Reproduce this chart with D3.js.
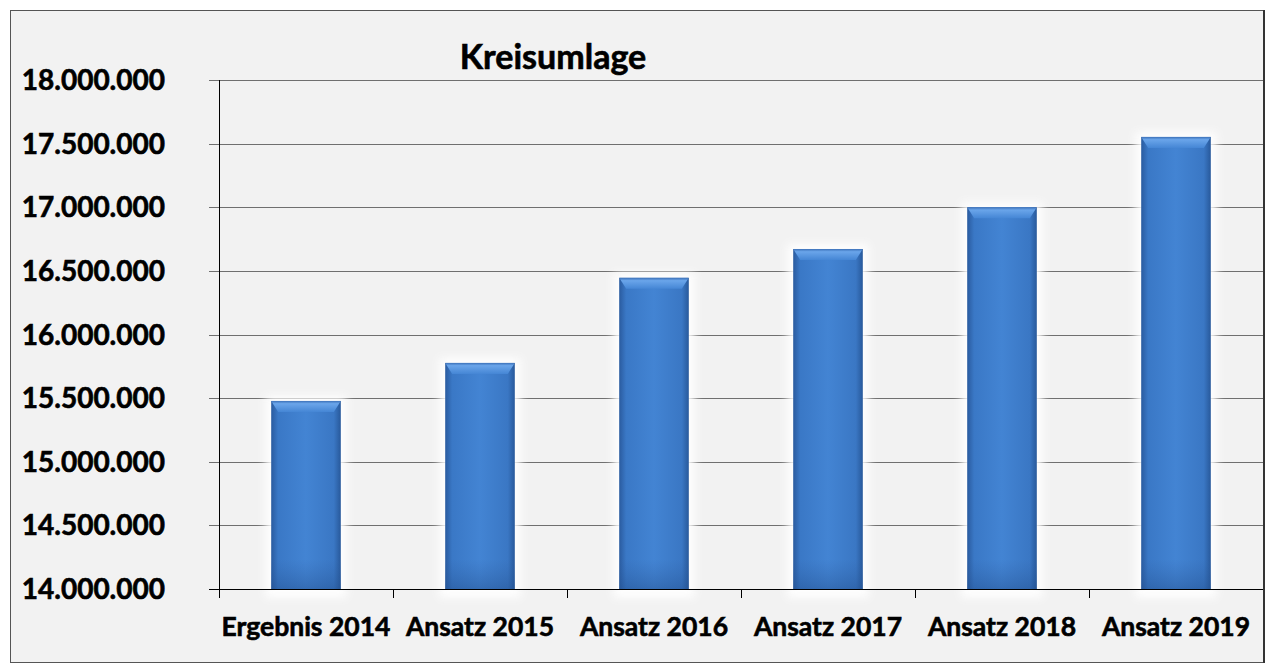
<!DOCTYPE html>
<html>
<head>
<meta charset="utf-8">
<script src="https://cdn.jsdelivr.net/npm/d3@7"></script>
<style>
    body { margin: 0; background: #ffffff; }
    text { font-family: Lato, "Open Sans", sans-serif; font-weight: bold; fill: #000; stroke: #000; stroke-width: 0.6px; }
</style>
</head>
<body>
<div id="chart"></div>
<script>
'use strict';

const categories = ["Ergebnis 2014", "Ansatz 2015", "Ansatz 2016", "Ansatz 2017", "Ansatz 2018", "Ansatz 2019"];
const values = [15478000, 15777000, 16445000, 16672000, 17000000, 17553000];
const yTicks = [14000000, 14500000, 15000000, 15500000, 16000000, 16500000, 17000000, 17500000, 18000000];
const chartTitle = "Kreisumlage";

class BarChart {
    constructor(divId, width, height, options) {
        this.options = options;
        let margin = options.margin;
        this.width = width - margin.left - margin.right;
        this.height = height - margin.top - margin.bottom;

        let root = d3.select("#" + divId).append("svg")
            .attr("width", width)
            .attr("height", height);

        this.root = root;
        this.defs = root.append("defs");

        // frame of the chart
        root.append("rect")
            .attr("x", 10.5).attr("y", 10.5)
            .attr("width", width - 12.5).attr("height", height - 13)
            .style("fill", "#f2f2f2")
            .style("stroke", "#555")
            .style("stroke-width", 1);
        root.append("line")
            .attr("x1", width - 2).attr("x2", width - 2)
            .attr("y1", 10).attr("y2", height - 2)
            .style("stroke", "#333").style("stroke-width", 2);

        this.svg = root.append("g")
            .attr("transform", "translate(" + margin.left + "," + margin.top + ")");

        this.initDefs();
    }

    initDefs() {
        let side = this.defs.append("linearGradient")
            .attr("id", "barSide")
            .attr("x1", "0").attr("x2", "1").attr("y1", "0").attr("y2", "0");
        side.append("stop").attr("offset", "0").attr("stop-color", "#2a5b9f");
        side.append("stop").attr("offset", "0.1").attr("stop-color", "#3a78c6");
        side.append("stop").attr("offset", "0.5").attr("stop-color", "#4384d3");
        side.append("stop").attr("offset", "0.9").attr("stop-color", "#3a77c4");
        side.append("stop").attr("offset", "1").attr("stop-color", "#28599b");

        let top = this.defs.append("linearGradient")
            .attr("id", "barTop")
            .attr("x1", "0").attr("x2", "0").attr("y1", "0").attr("y2", "1");
        top.append("stop").attr("offset", "0").attr("stop-color", "#3b70b8");
        top.append("stop").attr("offset", "0.25").attr("stop-color", "#6aa5ea");
        top.append("stop").attr("offset", "1").attr("stop-color", "#4586d5");

        let bottom = this.defs.append("linearGradient")
            .attr("id", "barBottom")
            .attr("x1", "0").attr("x2", "0").attr("y1", "0").attr("y2", "1");
        bottom.append("stop").attr("offset", "0").attr("stop-color", "#2d5fa4").attr("stop-opacity", 0);
        bottom.append("stop").attr("offset", "1").attr("stop-color", "#23508f").attr("stop-opacity", 0.45);

        let glow = this.defs.append("filter").attr("id", "glow")
            .attr("x", "-30%").attr("y", "-10%").attr("width", "160%").attr("height", "120%");
        glow.append("feGaussianBlur").attr("stdDeviation", 4);
    }

    setData(categories, values) {
        this.categories = categories;
        this.values = values;

        this.x = d3.scaleBand()
            .domain(categories)
            .range([0, this.width])
            .paddingInner(0.6)
            .paddingOuter(0.3);

        this.xOuter = d3.scaleBand()
            .domain(categories)
            .range([0, this.width]);

        this.y = d3.scaleLinear()
            .domain([14000000, 18000000])
            .range([this.height, 0]);
    }

    renderGrid() {
        let self = this;
        let fmt = d3.format(",.0f");

        self.svg.selectAll(".grid").data(yTicks.slice(1)).enter()
            .append("line")
            .attr("class", "grid")
            .attr("x1", -10).attr("x2", self.width)
            .attr("y1", function (d) { return Math.round(self.y(d)) + 0.5; })
            .attr("y2", function (d) { return Math.round(self.y(d)) + 0.5; })
            .style("stroke", "#6f6f6f")
            .style("stroke-width", 1.2);

        self.svg.selectAll(".yLabel").data(yTicks).enter()
            .append("text")
            .attr("class", "yLabel")
            .attr("x", -54)
            .attr("y", function (d) { return self.y(d); })
            .attr("dy", "0.36em")
            .style("text-anchor", "end")
            .style("font-size", "28px")
            .text(function (d) { return fmt(d).replace(/,/g, "."); });
    }

    renderAxis() {
        let self = this;
        let g = self.svg.append("g");

        g.append("line")
            .attr("x1", 0.5).attr("x2", 0.5)
            .attr("y1", 0).attr("y2", self.height)
            .style("stroke", "#000").style("stroke-width", 1);

        g.append("line")
            .attr("x1", -10).attr("x2", self.width)
            .attr("y1", self.height + 0.5).attr("y2", self.height + 0.5)
            .style("stroke", "#000").style("stroke-width", 1);

        g.selectAll(".xTick").data(self.categories).enter()
            .append("line")
            .attr("x1", function (d) { return Math.round(self.xOuter(d)) + 0.5; })
            .attr("x2", function (d) { return Math.round(self.xOuter(d)) + 0.5; })
            .attr("y1", self.height).attr("y2", self.height + 9)
            .style("stroke", "#000").style("stroke-width", 1);

        g.selectAll(".xLabel").data(self.categories).enter()
            .append("text")
            .attr("class", "xLabel")
            .attr("x", function (d) { return self.xOuter(d) + self.xOuter.bandwidth() / 2; })
            .attr("y", self.height + 47)
            .style("text-anchor", "middle")
            .style("font-size", "26.5px")
            .text(function (d) { return d; });
    }

    render() {
        let self = this;
        let bw = self.x.bandwidth();
        let bevel = 7;

        let bars = self.svg.selectAll(".bar").data(self.categories).enter()
            .append("g")
            .attr("class", "bar")
            .attr("transform", function (d) { return "translate(" + self.x(d) + ",0)"; });

        // soft light halo around each bar
        bars.append("rect")
            .attr("x", -6)
            .attr("y", function (d, i) { return self.y(self.values[i]) - 5; })
            .attr("width", bw + 12)
            .attr("height", function (d, i) { return self.height - self.y(self.values[i]) + 14; })
            .style("fill", "#ffffff")
            .style("opacity", 0.9)
            .attr("filter", "url(#glow)");

        bars.append("rect")
            .attr("x", 0)
            .attr("y", function (d, i) { return self.y(self.values[i]); })
            .attr("width", bw)
            .attr("height", function (d, i) { return self.height - self.y(self.values[i]); })
            .style("fill", "url(#barSide)");

        bars.append("rect")
            .attr("x", 0)
            .attr("y", function (d, i) { return self.height - 30; })
            .attr("width", bw)
            .attr("height", 30)
            .style("fill", "url(#barBottom)");

        // bevelled top face
        bars.append("path")
            .attr("d", function (d, i) {
                let t = self.y(self.values[i]);
                return "M0," + t + "H" + bw + "L" + (bw - bevel) + "," + (t + bevel + 4) +
                    "H" + bevel + "Z";
            })
            .style("fill", "url(#barTop)");
    }

    renderTitle(title) {
        this.root.append("text")
            .attr("x", 553)
            .attr("y", 69)
            .style("text-anchor", "middle")
            .style("font-size", "34px")
            .text(title);
    }
}

let chart = new BarChart("chart", 1266, 665, {
    margin: { top: 80, right: 3, bottom: 76, left: 219 }
});
chart.setData(categories, values);
chart.renderGrid();
chart.render();
chart.renderAxis();
chart.renderTitle(chartTitle);
</script>
</body>
</html>
